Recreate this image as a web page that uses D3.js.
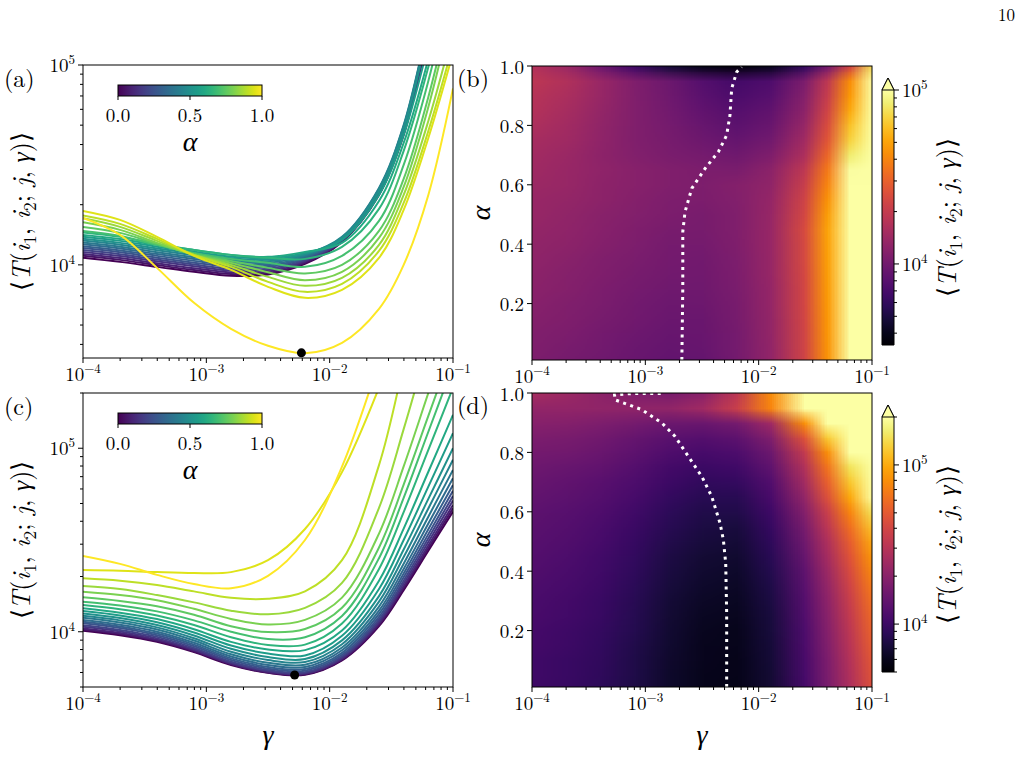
<!DOCTYPE html>
<html>
<head>
<meta charset="utf-8">
<script src="https://cdn.jsdelivr.net/npm/d3@7"></script>
<style>
  body { margin: 0; background: #fff; }
</style>
</head>
<body>
<svg id="fig" width="1021" height="767"></svg>
<script>
// ---------- data ----------
const alphas = [0, 0.05, 0.1, 0.15, 0.2, 0.25, 0.3, 0.35, 0.4, 0.45, 0.5,
                0.55, 0.6, 0.65, 0.7, 0.75, 0.8, 0.85, 0.9, 0.95, 1];
const gammas = [1e-4, 1.995e-4, 3.981e-4, 7.943e-4, 1.585e-3, 3.162e-3,
                6.310e-3, 1.259e-2, 2.512e-2, 3.981e-2, 6.310e-2, 1e-1];

// log10 <T> for panels (a)/(b): one row per alpha, one column per gamma
const logTa = [
  [4.036, 4.015, 3.990, 3.965, 3.945, 3.952, 4.005, 4.115, 4.350, 4.650, 5.150, 5.650],
  [4.046, 4.025, 3.999, 3.974, 3.954, 3.959, 4.010, 4.118, 4.354, 4.656, 5.156, 5.656],
  [4.055, 4.034, 4.008, 3.983, 3.962, 3.967, 4.015, 4.121, 4.358, 4.661, 5.161, 5.661],
  [4.065, 4.044, 4.018, 3.993, 3.971, 3.974, 4.020, 4.123, 4.362, 4.667, 5.167, 5.667],
  [4.074, 4.053, 4.027, 4.002, 3.980, 3.981, 4.025, 4.126, 4.366, 4.672, 5.172, 5.672],
  [4.084, 4.063, 4.036, 4.011, 3.989, 3.989, 4.030, 4.129, 4.369, 4.678, 5.178, 5.678],
  [4.093, 4.072, 4.045, 4.020, 3.998, 3.996, 4.035, 4.132, 4.373, 4.683, 5.183, 5.683],
  [4.103, 4.082, 4.054, 4.029, 4.006, 4.003, 4.040, 4.134, 4.377, 4.689, 5.189, 5.689],
  [4.112, 4.091, 4.063, 4.038, 4.015, 4.011, 4.045, 4.137, 4.381, 4.694, 5.194, 5.694],
  [4.122, 4.101, 4.073, 4.048, 4.024, 4.018, 4.050, 4.140, 4.385, 4.700, 5.200, 5.700],
  [4.131, 4.110, 4.082, 4.057, 4.033, 4.025, 4.055, 4.135, 4.370, 4.680, 5.170, 5.670],
  [4.141, 4.120, 4.091, 4.066, 4.041, 4.033, 4.060, 4.125, 4.350, 4.650, 5.100, 5.600],
  [4.150, 4.130, 4.100, 4.075, 4.050, 4.040, 4.065, 4.110, 4.320, 4.610, 5.030, 5.550],
  [4.162, 4.140, 4.105, 4.075, 4.050, 4.035, 4.030, 4.090, 4.280, 4.570, 4.990, 5.500],
  [4.170, 4.145, 4.100, 4.060, 4.030, 4.010, 3.990, 4.045, 4.220, 4.500, 4.920, 5.450],
  [4.190, 4.160, 4.105, 4.055, 4.020, 3.985, 3.957, 4.000, 4.170, 4.430, 4.840, 5.350],
  [4.213, 4.175, 4.110, 4.050, 4.010, 3.963, 3.923, 3.965, 4.135, 4.390, 4.790, 5.300],
  [4.233, 4.190, 4.120, 4.050, 4.000, 3.940, 3.895, 3.935, 4.100, 4.350, 4.720, 5.170],
  [4.247, 4.205, 4.130, 4.050, 3.990, 3.915, 3.865, 3.905, 4.070, 4.310, 4.670, 5.100],
  [4.270, 4.225, 4.140, 4.045, 3.975, 3.890, 3.835, 3.875, 4.035, 4.275, 4.635, 5.060],
  [4.235, 4.150, 3.985, 3.810, 3.680, 3.595, 3.558, 3.610, 3.780, 4.000, 4.350, 4.883]
];

// log10 <T> for panels (c)/(d)
const logTc = [
  [4.005, 3.981, 3.945, 3.889, 3.819, 3.776, 3.766, 3.844, 4.031, 4.227, 4.441, 4.655],
  [4.013, 3.988, 3.951, 3.894, 3.823, 3.778, 3.768, 3.848, 4.038, 4.238, 4.455, 4.673],
  [4.018, 3.993, 3.956, 3.899, 3.826, 3.781, 3.771, 3.852, 4.046, 4.248, 4.470, 4.691],
  [4.027, 4.002, 3.964, 3.905, 3.831, 3.786, 3.775, 3.858, 4.056, 4.263, 4.489, 4.715],
  [4.036, 4.010, 3.972, 3.912, 3.837, 3.791, 3.780, 3.865, 4.067, 4.278, 4.509, 4.740],
  [4.046, 4.020, 3.981, 3.921, 3.846, 3.799, 3.788, 3.874, 4.081, 4.297, 4.532, 4.768],
  [4.055, 4.029, 3.990, 3.930, 3.855, 3.808, 3.797, 3.885, 4.097, 4.318, 4.559, 4.800],
  [4.064, 4.038, 4.000, 3.940, 3.865, 3.819, 3.808, 3.899, 4.115, 4.342, 4.590, 4.837],
  [4.076, 4.050, 4.012, 3.952, 3.877, 3.831, 3.820, 3.914, 4.137, 4.371, 4.627, 4.882],
  [4.087, 4.062, 4.024, 3.965, 3.891, 3.846, 3.835, 3.932, 4.164, 4.407, 4.672, 4.937],
  [4.100, 4.075, 4.037, 3.980, 3.907, 3.862, 3.851, 3.953, 4.194, 4.448, 4.724, 5.000],
  [4.113, 4.089, 4.052, 3.996, 3.925, 3.881, 3.871, 3.978, 4.233, 4.500, 4.791, 5.082],
  [4.128, 4.104, 4.069, 4.014, 3.945, 3.903, 3.900, 4.007, 4.278, 4.562, 4.872, 5.182],
  [4.146, 4.123, 4.089, 4.037, 3.970, 3.928, 3.930, 4.045, 4.342, 4.652, 4.991, 5.330],
  [4.164, 4.143, 4.111, 4.062, 4.000, 3.960, 3.970, 4.086, 4.401, 4.730, 5.090, 5.450],
  [4.188, 4.168, 4.139, 4.093, 4.030, 3.998, 4.015, 4.131, 4.459, 4.802, 5.176, 5.550],
  [4.218, 4.200, 4.172, 4.125, 4.070, 4.040, 4.065, 4.186, 4.535, 4.901, 5.301, 5.700],
  [4.249, 4.233, 4.200, 4.160, 4.115, 4.095, 4.130, 4.266, 4.675, 5.104, 5.571, 6.039],
  [4.291, 4.278, 4.255, 4.220, 4.185, 4.180, 4.220, 4.390, 4.908, 5.454, 6.049, 6.644],
  [4.337, 4.333, 4.325, 4.320, 4.325, 4.390, 4.560, 4.870, 5.330, 5.700, 6.100, 6.500],
  [4.413, 4.370, 4.310, 4.260, 4.237, 4.305, 4.500, 4.900, 5.470, 5.900, 6.300, 6.700]
];

// optimum markers
const minA = { gamma: 5.9e-3, T: 3630 };
const minC = { gamma: 5.2e-3, T: 5810 };

// dotted optimum lines in the maps: [alpha, gamma]
const ridgeB = [[0.01, 2.10e-3], [0.252, 2.14e-3], [0.442, 2.14e-3], [0.509, 2.24e-3],
                [0.588, 2.57e-3], [0.655, 3.37e-3], [0.711, 4.41e-3], [0.767, 5.22e-3],
                [0.834, 5.58e-3], [0.924, 5.78e-3], [0.98, 6.40e-3], [0.997, 7.08e-3]];
const ridgeD = [[0.01, 5.22e-3], [0.259, 5.22e-3], [0.427, 5.12e-3], [0.506, 4.88e-3],
                [0.562, 4.56e-3], [0.652, 3.85e-3], [0.719, 3.15e-3], [0.786, 2.40e-3],
                [0.854, 1.83e-3], [0.899, 1.40e-3], [0.944, 9.3e-4], [0.977, 5.4e-4],
                [0.994, 5.35e-4], [0.998, 7.6e-4], [0.998, 1.40e-3]];

const gammaExps = [-4, -3, -2, -1];
const alphaTicks = [0.2, 0.4, 0.6, 0.8, 1.0];
const insetTicks = [0, 0.5, 1];

// ---------- helpers ----------
const FONT = '"Latin Modern Roman", "Liberation Serif", serif';
const GREEK = '"Liberation Serif", serif';
const svg = d3.select("#fig");
const defs = svg.append("defs");
const fmtExp = e => (e < 0 ? "\u2212" + (-e) : "" + e);

function powLabel(g, x, y, e, anchor) {
  const t = g.append("text").attr("x", x).attr("y", y)
    .attr("text-anchor", anchor).attr("font-size", 19);
  t.append("tspan").text("10");
  t.append("tspan").attr("dy", -8).attr("font-size", 13).text(fmtExp(e));
}

function tLabel(g, x, y) {
  const t = g.append("text")
    .attr("transform", `translate(${x},${y}) rotate(-90)`)
    .attr("text-anchor", "middle").attr("font-size", 26);
  const parts = [["\u27E8", 0], ["T", 1], ["(", 0], ["i", 1], ["1", 2], [", ", 0],
                 ["i", 1], ["2", 2], ["; ", 0], ["j", 1], [", ", 0], ["\u03B3", 3],
                 [")", 0], ["\u27E9", 0]];
  let down = false;
  parts.forEach(([s, k]) => {
    const ts = t.append("tspan").text(s);
    if (k === 1 || k === 3) ts.attr("font-style", "italic");
    if (k === 3) ts.classed("greek", true);
    if (k === 2) { ts.attr("font-size", 18).attr("dy", 6); down = true; }
    else if (down) { ts.attr("dy", -6); down = false; }
  });
}

function logXAxis(g, x, yb) {
  x.ticks().forEach(v => {
    const major = Math.abs(Math.log10(v) - Math.round(Math.log10(v))) < 1e-9;
    g.append("line").attr("x1", x(v)).attr("x2", x(v))
      .attr("y1", yb).attr("y2", yb + (major ? 5 : 3)).attr("stroke", "#000");
  });
  gammaExps.forEach(e => powLabel(g, x(Math.pow(10, e)), yb + 23, e, "middle"));
}

function logYAxis(g, y, xl, side) {
  const dir = side === "left" ? -1 : 1;
  y.ticks().forEach(v => {
    const le = Math.log10(v);
    const major = Math.abs(le - Math.round(le)) < 1e-9;
    g.append("line").attr("x1", xl).attr("x2", xl + dir * (major ? 5 : 3))
      .attr("y1", y(v)).attr("y2", y(v)).attr("stroke", "#000");
    if (major) powLabel(g, xl + dir * 8, y(v) + 7, Math.round(le), side === "left" ? "end" : "start");
  });
}

function frame(g, x0, y0, x1, y1) {
  g.append("rect").attr("x", x0).attr("y", y0).attr("width", x1 - x0).attr("height", y1 - y0)
    .attr("fill", "none").attr("stroke", "#000").attr("stroke-width", 1);
}

// ---------- line panels (a), (c) ----------
function linePanel(opts) {
  const { left, right, top, bottom, yDomain, logT, dot, tag, insetY } = opts;
  const g = svg.append("g");
  const x = d3.scaleLog().domain([1e-4, 1e-1]).range([left, right]);
  const y = d3.scaleLog().domain(yDomain).range([bottom, top]);

  const cid = "clip-" + tag;
  defs.append("clipPath").attr("id", cid).append("rect")
    .attr("x", left).attr("y", top).attr("width", right - left).attr("height", bottom - top);

  const line = d3.line()
    .x((d, j) => x(gammas[j]))
    .y(d => y(Math.pow(10, d)))
    .curve(d3.curveCatmullRom.alpha(0.5));

  g.append("g").attr("clip-path", `url(#${cid})`)
    .selectAll("path").data(logT).join("path")
    .attr("d", line)
    .attr("fill", "none")
    .attr("stroke", (d, i) => d3.interpolateViridis(alphas[i]))
    .attr("stroke-width", 2);

  g.append("circle").attr("cx", x(dot.gamma)).attr("cy", y(dot.T)).attr("r", 4.5).attr("fill", "#000");

  frame(g, left, top, right, bottom);
  logXAxis(g, x, bottom);
  logYAxis(g, y, left, "left");
  tLabel(g, 30, (top + bottom) / 2);
  g.append("text").attr("x", 4).attr("y", top + 22).attr("font-size", 24).text(`(${tag})`);

  // inset alpha colorbar
  const ix = d3.scaleLinear().domain([0, 1]).range([118, 262]);
  const gid = "vir-" + tag;
  const grad = defs.append("linearGradient").attr("id", gid);
  d3.range(0, 1.0001, 0.05).forEach(t =>
    grad.append("stop").attr("offset", t).attr("stop-color", d3.interpolateViridis(t)));
  g.append("rect").attr("x", ix(0)).attr("y", insetY).attr("width", ix(1) - ix(0)).attr("height", 11)
    .attr("fill", `url(#${gid})`).attr("stroke", "#000").attr("stroke-width", 1);
  insetTicks.forEach(v => {
    g.append("line").attr("x1", ix(v)).attr("x2", ix(v)).attr("y1", insetY + 11).attr("y2", insetY + 15)
      .attr("stroke", "#000");
    g.append("text").attr("x", ix(v)).attr("y", insetY + 37).attr("text-anchor", "middle")
      .attr("font-size", 19).text(v.toFixed(1));
  });
  g.append("text").attr("class", "greek").attr("x", ix(0.5)).attr("y", insetY + 66)
    .attr("text-anchor", "middle").attr("font-size", 28).attr("font-style", "italic").text("\u03B1");
}

// ---------- heat-map panels (b), (d) ----------
function mapPanel(opts) {
  const { left, right, top, bottom, cDomain, logT, ridge, tag, cbTop, cbBottom } = opts;
  const g = svg.append("g");
  const x = d3.scaleLog().domain([1e-4, 1e-1]).range([left, right]);
  const y = d3.scaleLinear().domain([0.01, 1.0]).range([bottom, top]);
  const lmin = Math.log10(cDomain[0]), lmax = Math.log10(cDomain[1]);
  const color = v => d3.interpolateInferno(Math.max(0, Math.min(1, (v - lmin) / (lmax - lmin))));

  // the gamma grid has two uniform pieces (in log); draw each as a smoothed image
  [[0, 8], [8, 11]].forEach(([j0, j1], k) => {
    const nc = j1 - j0 + 1, nr = alphas.length;
    const cv = document.createElement("canvas");
    cv.width = nc; cv.height = nr;
    const ctx = cv.getContext("2d");
    for (let i = 0; i < nr; i++) {
      for (let j = j0; j <= j1; j++) {
        ctx.fillStyle = color(logT[i][j]);
        ctx.fillRect(j - j0, nr - 1 - i, 1, 1);
      }
    }
    const h = Math.pow(10, (Math.log10(gammas[j0 + 1]) - Math.log10(gammas[j0])) / 2);
    const da = (alphas[1] - alphas[0]) / 2;
    const xa = x(gammas[j0] / h), xb = x(gammas[j1] * h);
    const ya = y(alphas[nr - 1] + da), yb = y(alphas[0] - da);
    const cid = `clip-${tag}-${k}`;
    defs.append("clipPath").attr("id", cid).append("rect")
      .attr("x", x(gammas[j0])).attr("y", top)
      .attr("width", x(gammas[j1]) - x(gammas[j0]) + (k === 0 ? 1 : 0))
      .attr("height", bottom - top);
    g.append("image").attr("href", cv.toDataURL())
      .attr("x", xa).attr("y", ya).attr("width", xb - xa).attr("height", yb - ya)
      .attr("preserveAspectRatio", "none").attr("clip-path", `url(#${cid})`);
  });

  g.append("path").datum(ridge)
    .attr("d", d3.line().x(d => x(d[1])).y(d => y(d[0])))
    .attr("fill", "none").attr("stroke", "#fff").attr("stroke-width", 3)
    .attr("stroke-dasharray", "3,4.5");

  frame(g, left, top, right, bottom);
  logXAxis(g, x, bottom);
  alphaTicks.forEach(v => {
    g.append("line").attr("x1", left).attr("x2", left - 5).attr("y1", y(v)).attr("y2", y(v)).attr("stroke", "#000");
    g.append("text").attr("x", left - 8).attr("y", y(v) + 7.5).attr("text-anchor", "end")
      .attr("font-size", 19).text(v.toFixed(1));
  });
  g.append("text").attr("class", "greek")
    .attr("transform", `translate(490,${(top + bottom) / 2}) rotate(-90)`)
    .attr("text-anchor", "middle").attr("font-size", 28).attr("font-style", "italic").text("\u03B1");
  g.append("text").attr("x", 457).attr("y", top + 21).attr("font-size", 24).text(`(${tag})`);

  // colorbar with "extend max" triangle
  const cx0 = 882, cx1 = 894;
  const cy = d3.scaleLog().domain(cDomain).range([cbBottom, cbTop]);
  const gid = "inf-" + tag;
  const grad = defs.append("linearGradient").attr("id", gid)
    .attr("x1", 0).attr("y1", 1).attr("x2", 0).attr("y2", 0);
  d3.range(0, 1.0001, 0.05).forEach(t =>
    grad.append("stop").attr("offset", t).attr("stop-color", d3.interpolateInferno(t)));
  g.append("rect").attr("x", cx0).attr("y", cbTop).attr("width", cx1 - cx0).attr("height", cbBottom - cbTop)
    .attr("fill", `url(#${gid})`);
  g.append("path")
    .attr("d", `M${cx0},${cbBottom}V${cbTop}L${(cx0 + cx1) / 2},${cbTop - 12}L${cx1},${cbTop}V${cbBottom}Z`)
    .attr("fill", "none").attr("stroke", "#000").attr("stroke-width", 1);
  g.append("path")
    .attr("d", `M${cx0},${cbTop}L${(cx0 + cx1) / 2},${cbTop - 12}L${cx1},${cbTop}Z`)
    .attr("fill", d3.interpolateInferno(1)).attr("stroke", "#000").attr("stroke-width", 1);
  logYAxis(g, cy, cx1, "right");
  tLabel(g, 956, (cbTop + cbBottom) / 2);
}

linePanel({ left: 83, right: 453, top: 65, bottom: 358, yDomain: [3420, 1e5],
            logT: logTa, dot: minA, tag: "a", insetY: 85 });
linePanel({ left: 83, right: 453, top: 393, bottom: 687, yDomain: [5000, 2e5],
            logT: logTc, dot: minC, tag: "c", insetY: 413 });
mapPanel({ left: 532, right: 872, top: 66, bottom: 360, cDomain: [3420, 1e5],
           logT: logTa, ridge: ridgeB, tag: "b", cbTop: 90, cbBottom: 345 });
mapPanel({ left: 532, right: 872, top: 393, bottom: 687, cDomain: [5000, 2e5],
           logT: logTc, ridge: ridgeD, tag: "d", cbTop: 417, cbBottom: 672 });

// axis titles
[268, 702].forEach(cx =>
  svg.append("text").attr("class", "greek").attr("x", cx).attr("y", 744).attr("text-anchor", "middle")
    .attr("font-size", 28).attr("font-style", "italic").text("\u03B3"));
svg.append("text").attr("x", 1015).attr("y", 21).attr("text-anchor", "end")
  .attr("font-size", 17).text("10");

svg.selectAll("text").style("font-family", FONT);
svg.selectAll(".greek").style("font-family", GREEK);
</script>
</body>
</html>
